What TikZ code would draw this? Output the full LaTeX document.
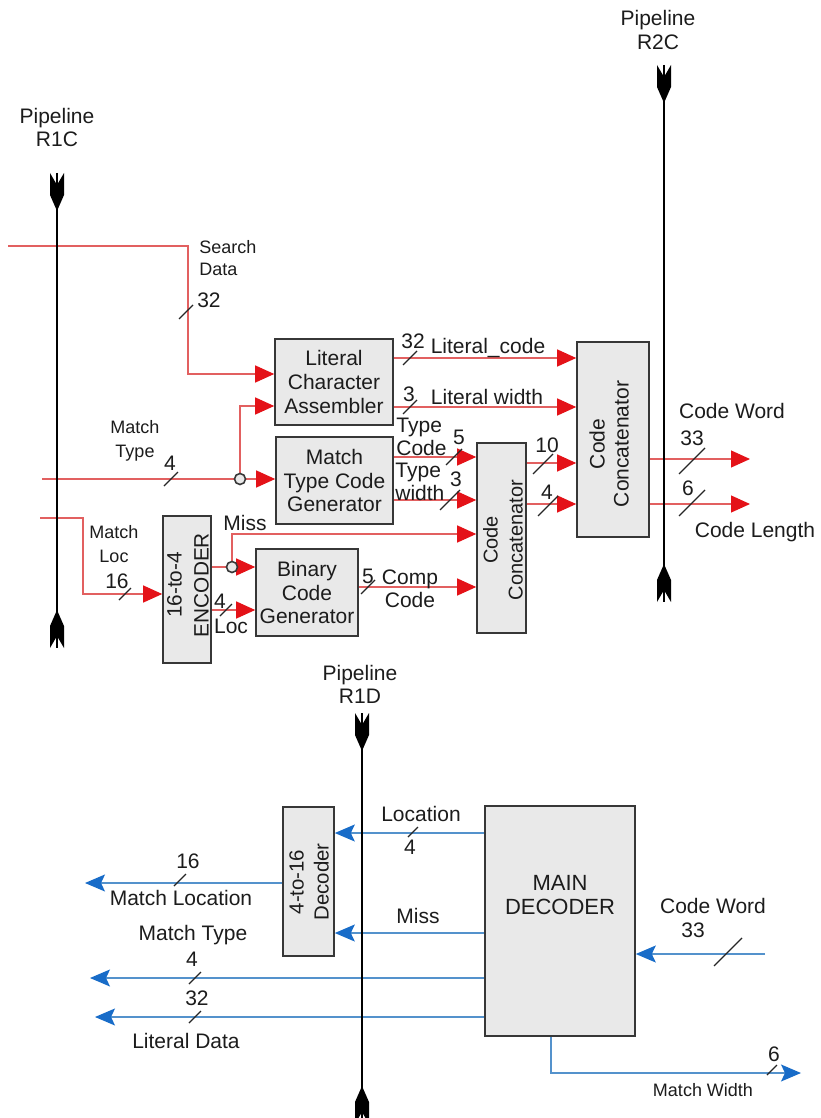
\documentclass[tikz,border=0pt]{standalone}
\usepackage{fontspec}
\setmainfont{Liberation Sans}
\usepackage{tikz}
\usetikzlibrary{arrows.meta, positioning, calc}
\definecolor{wireRed}{RGB}{226, 96, 96}
\definecolor{tipRed}{RGB}{228, 18, 24}
\definecolor{wireBlue}{RGB}{84, 146, 204}
\definecolor{tipBlue}{RGB}{24, 108, 200}
\definecolor{boxGray}{RGB}{233, 233, 233}
\definecolor{edgeGray}{RGB}{55, 55, 55}
\definecolor{inkGray}{RGB}{28, 28, 28}
\tikzset{
  block/.style={rectangle, draw=edgeGray, line width=0.8pt, fill=boxGray, inner sep=0pt, align=center, text=inkGray, font=\fontsize{10.5}{11.8}\selectfont},
  blocktext/.style={inner sep=0pt, align=center, text=inkGray, font=\fontsize{10.3}{12.5}\selectfont},
  lbl/.style={inner sep=0pt, align=center, text=inkGray, font=\fontsize{10.5}{11.5}\selectfont},
  smalllbl/.style={inner sep=0pt, align=center, text=inkGray, font=\fontsize{9}{12}\selectfont},
  redwire/.style={draw=wireRed, line width=0.55pt, -{Triangle[length=9.5pt, width=8.5pt, color=tipRed]}},
  bluewire/.style={draw=wireBlue, line width=0.6pt, -{Stealth[length=10pt, width=8.5pt, inset=2pt, color=tipBlue]}},
  pipe/.style={draw=black, line width=0.8pt},
  junction/.style={circle, draw=edgeGray, fill=boxGray, line width=0.8pt, minimum size=5.5pt, inner sep=0pt},
  busmark/.pic={\draw[black!85, line width=0.6pt] (-#1,#1) -- (#1,-#1);},
  fletch/.pic={\fill[black] (-7,0) -- (0,12) -- (7,0) -- (7,22) -- (0,38) -- (-7,22) -- cycle;}
}

\begin{document}
\begin{tikzpicture}[x=0.5pt, y=-0.5pt]
\useasboundingbox (0,0) rectangle (820,1118);

% Bloques del compresor
\node[block, minimum width=59pt, minimum height=43pt] (lca) at (334,382) {Literal\\Character\\Assembler};
\node[block, minimum width=58.5pt, minimum height=43.5pt] (mtg) at (334.5,480.5) {Match\\Type Code\\Generator};
\node[block, minimum width=24pt, minimum height=73.5pt] (enc) at (187,589.5) {};
\node[block, minimum width=51pt, minimum height=43.5pt] (bcg) at (307,592.5) {Binary\\Code\\Generator};
\node[block, minimum width=24.5pt, minimum height=95pt] (cc1) at (501.5,538) {};
\node[block, minimum width=36pt, minimum height=97.5pt] (cc2) at (613,439.5) {};
\node[blocktext, rotate=90, font=\fontsize{10.4}{13.5}\selectfont] (enctxt) at (188,585) {16-to-4\\ENCODER};
\node[blocktext, rotate=90, font=\fontsize{10}{12.5}\selectfont] (cc1txt) at (503,540) {Code\\Concatenator};
\node[blocktext, rotate=90, font=\fontsize{10.5}{12}\selectfont] (cc2txt) at (609,444) {Code\\Concatenator};

% Bloques del descompresor
\node[block, minimum width=25.5pt, minimum height=74.5pt] (dec) at (308.5,881.5) {};
\node[blocktext, rotate=90, font=\fontsize{10.2}{12.5}\selectfont] (dectxt) at (309,882) {4-to-16\\Decoder};
\node[block, minimum width=75pt, minimum height=115pt] (mdec) at (560,921) {};
\node[blocktext, font=\fontsize{11}{12}\selectfont] (mdectxt) at (560,895) {MAIN\\DECODER};

% Entradas y puntos de derivacion
\coordinate (sdin) at (8,246);
\coordinate (sdbend) at (188,374);
\coordinate (mtin) at (42,479);
\coordinate (mtsplit) at (240,479);
\coordinate (mlin) at (40,518);
\coordinate (mlbend) at (83,594);
\coordinate (misssplit) at (232,567);
\coordinate (cwout) at (750,459);
\coordinate (clout) at (750,504);

% Conexiones rojas
\draw[redwire] (sdin) -| (sdbend) -- (sdbend -| lca.west);
\draw[redwire] (mtin) -- (mtin -| mtg.west);
\draw[redwire] (mtsplit) |- (lca.west |- 0,406);
\draw[redwire] (mlin) -| (mlbend) -- (mlbend -| enc.west);
\draw[redwire] (enc.east |- misssplit) -- (misssplit -| bcg.west);
\draw[redwire] (misssplit) |- (cc1.west |- 0,534);
\draw[redwire] (enc.east |- 0,610) -- (bcg.west |- 0,610);
\draw[redwire] (bcg.east |- 0,587) -- (cc1.west |- 0,587);
\draw[redwire] (lca.east |- 0,358) -- (cc2.west |- 0,358);
\draw[redwire] (lca.east |- 0,407) -- (cc2.west |- 0,407);
\draw[redwire] (mtg.east |- 0,457) -- (cc1.west |- 0,457);
\draw[redwire] (mtg.east |- 0,500) -- (cc1.west |- 0,500);
\draw[redwire] (cc1.east |- 0,463) -- (cc2.west |- 0,463);
\draw[redwire] (cc1.east |- 0,504) -- (cc2.west |- 0,504);
\draw[redwire] (cc2.east |- cwout) -- (cwout);
\draw[redwire] (cc2.east |- clout) -- (clout);
\node[junction] (mtdot) at (mtsplit) {};
\node[junction] (missdot) at (misssplit) {};

% Conexiones azules
\coordinate (mlocout) at (85,883);
\coordinate (mtout) at (90,978);
\coordinate (ldout) at (95,1017);
\coordinate (cwin) at (765,954);
\coordinate (mwout) at (801,1073);
\draw[bluewire] (mdec.west |- 0,833) -- (dec.east |- 0,833);
\draw[bluewire] (mdec.west |- 0,933) -- (dec.east |- 0,933);
\draw[bluewire] (dec.west |- mlocout) -- (mlocout);
\draw[bluewire] (mdec.west |- mtout) -- (mtout);
\draw[bluewire] (mdec.west |- ldout) -- (ldout);
\draw[bluewire] (cwin) -- (cwin -| mdec.east);
\draw[bluewire] (551,0 |- mdec.south) |- (mwout);

% Registros de pipeline
\coordinate (r1ctop) at (57,173);
\coordinate (r1cbot) at (57,648);
\coordinate (r2ctop) at (664,65);
\coordinate (r2cbot) at (664,602);
\coordinate (r1dtop) at (362,713);
\coordinate (r1dbot) at (362,1124);
\draw[pipe] (r1ctop) -- (r1cbot);
\draw[pipe] (r2ctop) -- (r2cbot);
\draw[pipe] (r1dtop) -- (r1dbot);
\pic at (r1ctop) {fletch};
\pic[rotate=180] at (r1cbot) {fletch};
\pic at (r2ctop) {fletch};
\pic[rotate=180] at (r2cbot) {fletch};
\pic at (r1dtop) {fletch};
\pic[rotate=180] at (r1dbot) {fletch};
\node[lbl] (r1clbl) at (57,127) {Pipeline\\R1C};
\node[lbl, font=\fontsize{10.5}{12}\selectfont] (r2clbl) at (658,30) {Pipeline\\R2C};
\node[lbl] (r1dlbl) at (360,684) {Pipeline\\R1D};

% Marcas de bus
\pic at (186,312) {busmark=7};
\pic at (171,479) {busmark=7};
\pic at (125,594) {busmark=6};
\pic at (226,610) {busmark=6};
\pic at (368,587) {busmark=7};
\pic at (410,358) {busmark=7};
\pic at (410,407) {busmark=7};
\pic at (454,457) {busmark=8};
\pic at (450,500) {busmark=10};
\pic at (543,464) {busmark=10};
\pic at (548,506) {busmark=10};
\pic at (692,461) {busmark=13};
\pic at (692,503) {busmark=13};
\pic at (413,832) {busmark=5};
\pic at (180,880) {busmark=6};
\pic at (195,978) {busmark=6};
\pic at (195,1017) {busmark=6};
\pic at (728,952) {busmark=14};
\pic at (772,1070) {busmark=5};

% Etiquetas del compresor
\node[smalllbl, anchor=west, align=left, font=\fontsize{9}{11}\selectfont] (sdlbl) at (199,258) {Search\\Data};
\node[lbl] (sdw) at (209,300) {32};
\node[smalllbl] (mtlbl) at (135,441) {Match\\Type};
\node[lbl] (mtw) at (170,463) {4};
\node[smalllbl] (mllbl) at (114,544) {Match\\Loc};
\node[lbl] (mlw) at (117,581) {16};
\node[lbl] (misslbl) at (245,523) {Miss};
\node[lbl] (locw) at (220,601) {4};
\node[lbl] (loclbl) at (231,626) {Loc};
\node[lbl] (ccw) at (368,576) {5};
\node[lbl] (cclbl) at (410,589) {Comp\\Code};
\node[lbl] (lcw) at (413,341) {32};
\node[lbl] (lclbl) at (488,348) {Literal\_code};
\node[lbl] (lww) at (409,394) {3};
\node[lbl] (lwlbl) at (487,397) {Literal width};
\node[lbl, anchor=west, align=left] (tclbl) at (396,436.5) {Type\\Code};
\node[lbl] (tcw) at (459,437) {5};
\node[lbl, anchor=west, align=left] (twlbl) at (395,481.5) {Type\\width};
\node[lbl] (tww) at (456,479) {3};
\node[lbl] (c10w) at (547,445) {10};
\node[lbl] (c4w) at (547,492) {4};
\node[lbl] (cwlbl) at (732,411) {Code Word};
\node[lbl] (cww) at (692,438) {33};
\node[lbl] (clw) at (688,488) {6};
\node[lbl] (cllbl) at (755,532) {Code Length};

% Etiquetas del descompresor
\node[lbl] (loclbl2) at (421,814) {Location};
\node[lbl] (locw2) at (410,847) {4};
\node[lbl] (misslbl2) at (418,916) {Miss};
\node[lbl] (mlocw) at (188,861) {16};
\node[lbl] (mloclbl) at (181,898) {Match Location};
\node[lbl] (mtlbl2) at (193,935) {Match Type};
\node[lbl] (mtw2) at (192,959) {4};
\node[lbl] (ldw) at (197,998) {32};
\node[lbl] (ldlbl) at (186,1041) {Literal Data};
\node[lbl] (cwlbl2) at (713,906) {Code Word};
\node[lbl] (cww2) at (693,930) {33};
\node[lbl] (mww) at (774,1054) {6};
\node[smalllbl] (mwlbl) at (703,1090) {Match Width};
\end{tikzpicture}
\end{document}
